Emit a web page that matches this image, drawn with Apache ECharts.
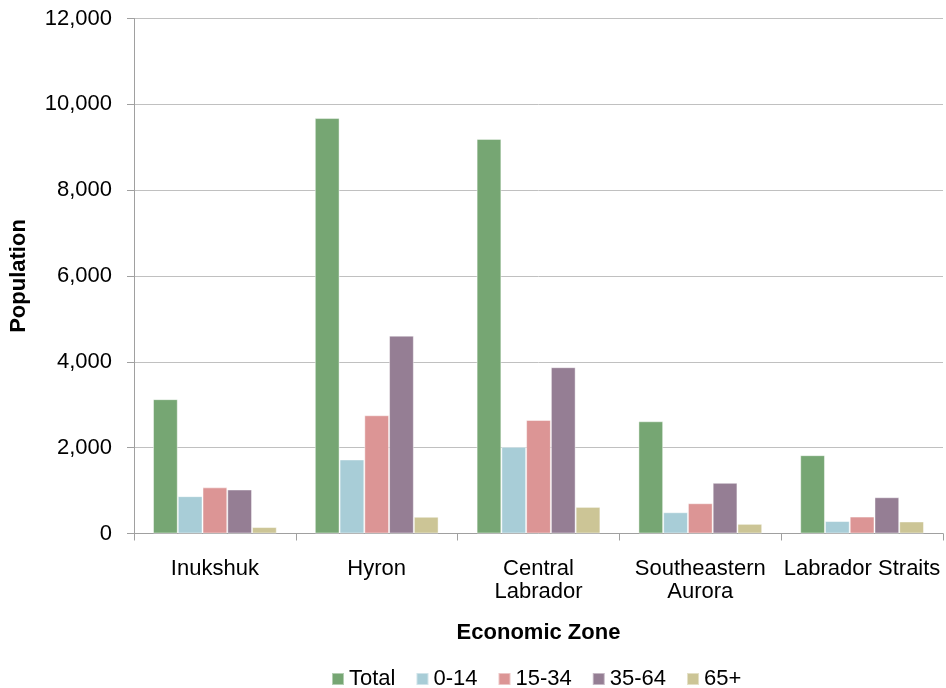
<!DOCTYPE html>
<html>
<head>
<meta charset="utf-8">
<script src="https://cdn.jsdelivr.net/npm/echarts@6/dist/echarts.min.js"></script>
<style>
html,body{margin:0;padding:0;background:#fff;}
#chart{width:946px;height:688px;}
</style>
</head>
<body>
<div id="chart"></div>
<script>
const categories = ["Inukshuk", "Hyron", "Central\nLabrador", "Southeastern\nAurora", "Labrador Straits"];
const seriesNames = ["Total", "0-14", "15-34", "35-64", "65+"];
const total = [3130, 9680, 9195, 2615, 1825];
const age0_14 = [870, 1725, 2020, 495, 290];
const age15_34 = [1075, 2755, 2645, 705, 395];
const age35_64 = [1025, 4610, 3875, 1180, 845];
const age65plus = [150, 390, 620, 225, 280];
const yTicks = {min: 0, max: 12000, interval: 2000};

const seriesData = [total, age0_14, age15_34, age35_64, age65plus];
const colors = ["#76A673", "#A8CDD7", "#DC9595", "#957E94", "#CCC596"];
const font = "'Liberation Sans', Arial, sans-serif";

const chart = echarts.init(document.getElementById('chart'));
chart.setOption({
  animation: false,
  color: colors,
  textStyle: {fontFamily: font},
  grid: {left: 131, right: 3, top: 18.5, bottom: 154.5, containLabel: false},
  legend: {
    top: 663,
    left: 326,
    itemWidth: 12,
    itemHeight: 12,
    itemGap: 20,
    icon: 'rect',
    data: seriesNames,
    textStyle: {fontSize: 22, color: '#000', fontFamily: font}
  },
  xAxis: {
    type: 'category',
    data: categories,
    name: 'Economic Zone',
    nameLocation: 'middle',
    nameGap: 88,
    nameTextStyle: {fontSize: 22, fontWeight: 'bold', color: '#000', fontFamily: font},
    axisLine: {lineStyle: {color: '#a0a0a0', width: 1}},
    axisTick: {show: true, length: 7, lineStyle: {color: '#a0a0a0'}},
    axisLabel: {fontSize: 22, color: '#000', margin: 24, lineHeight: 23, interval: 0, fontFamily: font}
  },
  yAxis: {
    type: 'value',
    min: yTicks.min,
    max: yTicks.max,
    interval: yTicks.interval,
    name: 'Population',
    nameLocation: 'middle',
    nameGap: 104,
    nameTextStyle: {fontSize: 22, fontWeight: 'bold', color: '#000', fontFamily: font},
    axisLine: {show: true, lineStyle: {color: '#a0a0a0', width: 1}},
    axisTick: {show: true, length: 7, lineStyle: {color: '#a0a0a0'}},
    splitLine: {lineStyle: {color: '#c0c0c0', width: 1}},
    axisLabel: {
      fontSize: 22, color: '#000', margin: 22, fontFamily: font,
      formatter: v => v.toLocaleString('en-US')
    }
  },
  series: seriesNames.map((n, i) => ({
    name: n,
    type: 'bar',
    data: seriesData[i],
    barGap: '0%',
    barCategoryGap: '23.5%',
    itemStyle: {color: colors[i], borderColor: 'rgba(255,255,255,0.45)', borderWidth: 1}
  }))
});
</script>
</body>
</html>
